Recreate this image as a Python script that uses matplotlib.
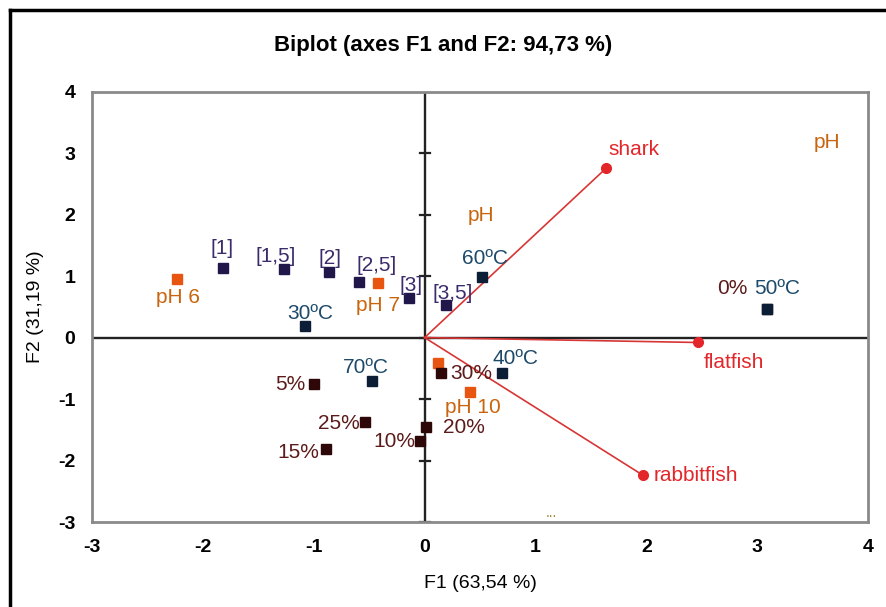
import matplotlib
matplotlib.use("Agg")
import matplotlib.pyplot as plt

# observation scores (F1, F2)
obs_names = ["[1]", "[1,5]", "[2]", "[2,5]", "[3]", "[3,5]",
             "pH 6", "pH 7", "pH", "pH 10",
             "0%", "5%", "10%", "15%", "20%", "25%", "30%",
             "30ºC", "40ºC", "50ºC", "60ºC", "70ºC"]
obs_f1 = [-1.82, -1.27, -0.86, -0.59, -0.14, 0.19,
          -2.23, -0.42, 0.12, 0.41,
          3.09, -1.00, -0.04, -0.89, 0.01, -0.54, 0.15,
          -1.08, 0.70, 3.09, 0.52, -0.47]
obs_f2 = [1.13, 1.12, 1.07, 0.91, 0.65, 0.53,
          0.96, 0.88, -0.42, -0.89,
          0.47, -0.76, -1.69, -1.82, -1.46, -1.38, -0.57,
          0.19, -0.58, 0.47, 0.99, -0.71]
obs_group = ["ratio"] * 6 + ["ph"] * 4 + ["pct"] * 7 + ["temp"] * 5

# variable loadings
var_names = ["shark", "flatfish", "rabbitfish"]
var_f1 = [1.64, 2.47, 1.97]
var_f2 = [2.76, -0.08, -2.24]

# label offsets in pixels (dx, dy)
obs_off = [(-1, 20), (-8, 12), (1, 13), (17, 16), (2, 12), (7, 11),
           (1, -19), (0, -22), (43, 148), (3, -15),
           (-35, 20), (-23, 0), (-26, 0), (-28, -3), (38, 0), (-26, -1), (30, -1),
           (5, 12), (13, 15), (10, 20), (3, 18), (-7, 14)]
var_off = [(28, 18), (35, -20), (11, 0)]
var_ha = ["center", "center", "left"]

marker_col = {"ratio": "#21174a", "ph": "#e85510", "temp": "#0c1e36", "pct": "#2e0808"}
label_col = {"ratio": "#3b2b6b", "ph": "#c8650e", "temp": "#1d4a6a", "pct": "#5c1a1a"}
red = "#e3262a"

plt.rcParams["font.family"] = ["Liberation Sans", "DejaVu Sans"]
plt.rcParams["axes.unicode_minus"] = False

fig = plt.figure(figsize=(8.87, 6.07), dpi=100)
ax = fig.add_axes([0.1037, 0.140, 0.875, 0.709])

ax.set_xlim(-3, 4)
ax.set_ylim(-3, 4)
ax.axhline(0, color="#222222", lw=1.7, zorder=1)
ax.axvline(0, color="#222222", lw=1.7, zorder=1)
# small ticks on the vertical zero line
for yt in range(-3, 5):
    ax.plot([-0.045, 0.045], [yt, yt], color="#222222", lw=1.6, zorder=1)

for s in ax.spines.values():
    s.set_color("#8a8a8a")
    s.set_linewidth(2.0)
ax.tick_params(length=0, pad=12, labelsize=14)
ax.set_xticks(range(-3, 5))
ax.set_yticks(range(-3, 5))
for lab in ax.get_xticklabels() + ax.get_yticklabels():
    lab.set_fontweight("bold")

# vectors
for i in range(len(var_names)):
    ax.plot([0, var_f1[i]], [0, var_f2[i]], color="#d83535", lw=1.2, zorder=2)
    ax.plot(var_f1[i], var_f2[i], "o", color=red, ms=7, zorder=3)
    ax.annotate(var_names[i], (var_f1[i], var_f2[i]), xytext=var_off[i],
                textcoords="offset pixels", ha=var_ha[i], va="center",
                color=red, fontsize=15)

# observations
for i in range(len(obs_names)):
    g = obs_group[i]
    ax.plot(obs_f1[i], obs_f2[i], "s", color=marker_col[g], ms=7, zorder=4)
    ax.annotate(obs_names[i], (obs_f1[i], obs_f2[i]), xytext=obs_off[i],
                textcoords="offset pixels", ha="center", va="center",
                color=label_col[g], fontsize=15, zorder=5)

# stray labels
ax.text(3.63, 3.18, "pH", color=label_col["ph"], fontsize=15, ha="center", va="center")
ax.text(1.14, -2.86, "...", color="#9a8030", fontsize=10, ha="center", va="center")

fig.text(0.5, 0.925, "Biplot (axes F1 and F2: 94,73 %)", fontweight="bold",
         fontsize=16, ha="center", va="center")
ax.set_xlabel("F1 (63,54 %)", fontsize=14, labelpad=14)
ax.set_ylabel("F2 (31,19 %)", fontsize=14, labelpad=10)

# outer frame (left and top)
fig.add_artist(plt.Line2D([0.0113, 0.0113], [0, 0.983], transform=fig.transFigure,
                          color="black", lw=2.5))
fig.add_artist(plt.Line2D([0.0113, 1.0], [0.983, 0.983], transform=fig.transFigure,
                          color="black", lw=2.5))

fig.savefig("out.png", dpi=100)
